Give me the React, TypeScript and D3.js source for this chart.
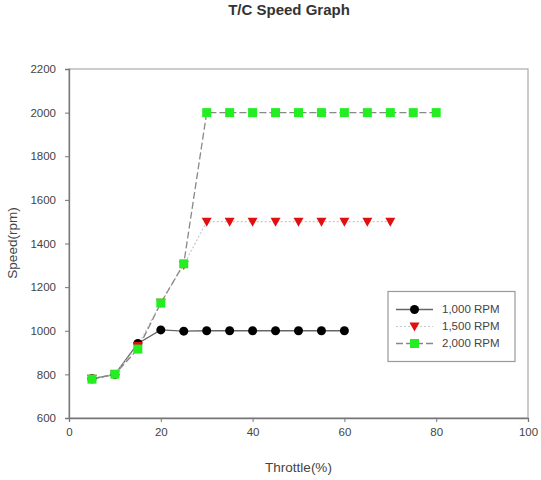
import React, { useEffect, useRef } from 'react';
import * as d3 from 'd3';

const throttle = [5, 10, 15, 20, 25, 30, 35, 40, 45, 50, 55, 60, 65, 70, 75, 80];
const rpm1000 = [780, 800, 942, 1004, 998, 1000, 1000, 1000, 1000, 1000, 1000, 1000];
const rpm1500 = [780, 800, 930, 1128, 1302, 1500, 1500, 1500, 1500, 1500, 1500, 1500, 1500, 1500];
const rpm2000 = [778, 801, 916, 1127, 1307, 2000, 2000, 2000, 2000, 2000, 2000, 2000, 2000, 2000, 2000, 2000];
const seriesNames = ['1,000 RPM', '1,500 RPM', '2,000 RPM'];
const xTicks = [0, 20, 40, 60, 80, 100];
const yTicks = [600, 800, 1000, 1200, 1400, 1600, 1800, 2000, 2200];

export default function App() {
  const svgRef = useRef<SVGSVGElement>(null);

  useEffect(() => {
    if (!svgRef.current) return;
    drawChart();
  }, []);

  const drawChart = () => {
    const svg = d3.select(svgRef.current);
    svg.selectAll('*').remove();

    const margin = { top: 69, right: 13, bottom: 62, left: 69 };
    const width = 541 - margin.left - margin.right;
    const height = 480 - margin.top - margin.bottom;
    const font = 'Arial, "Liberation Sans", sans-serif';

    const g = svg
      .append('g')
      .attr('transform', `translate(${margin.left},${margin.top})`);

    // Scales
    const x = d3.scaleLinear().domain([0, 100]).range([0, width]);
    const y = d3.scaleLinear().domain([600, 2200]).range([height, 0]);

    // Frame
    g.append('rect')
      .attr('width', width)
      .attr('height', height)
      .attr('fill', 'none')
      .attr('stroke', '#aaa')
      .attr('stroke-width', 1.2);

    // Axes
    const xAxis = g
      .append('g')
      .attr('transform', `translate(0,${height})`)
      .call(d3.axisBottom(x).tickValues(xTicks).tickSize(4).tickPadding(6));
    const yAxis = g
      .append('g')
      .call(d3.axisLeft(y).tickValues(yTicks).tickSize(4).tickPadding(9).tickFormat(d3.format('d')));

    [xAxis, yAxis].forEach((ax) => {
      ax.select('.domain').attr('stroke', '#777').attr('stroke-width', 1.3);
      ax.selectAll('.tick line').attr('stroke', '#777');
      ax.selectAll('text')
        .style('font-family', font)
        .style('font-size', '11.5px')
        .style('fill', '#444');
    });

    const series = [
      { name: seriesNames[0], values: rpm1000, stroke: '#666', dash: null, width: 1.3, marker: 'circle', color: '#000' },
      { name: seriesNames[1], values: rpm1500, stroke: '#c8c8c8', dash: '2,2', width: 1.2, marker: 'triangle', color: '#e01010' },
      { name: seriesNames[2], values: rpm2000, stroke: '#888', dash: '7,3', width: 1.3, marker: 'square', color: '#22ee22' },
    ];

    const line = d3
      .line<number>()
      .x((_, i) => x(throttle[i]))
      .y((d) => y(d));

    const drawMarker = (sel: any, type: string, color: string, cx: number, cy: number) => {
      if (type === 'circle') {
        sel.append('circle').attr('cx', cx).attr('cy', cy).attr('r', 4.5).attr('fill', color);
      } else if (type === 'triangle') {
        sel.append('path')
          .attr('d', `M${cx - 5},${cy - 4}L${cx + 5},${cy - 4}L${cx},${cy + 5}Z`)
          .attr('fill', color);
      } else {
        sel.append('rect')
          .attr('x', cx - 4.5)
          .attr('y', cy - 4.5)
          .attr('width', 9)
          .attr('height', 9)
          .attr('fill', color);
      }
    };

    series.forEach((s) => {
      g.append('path')
        .datum(s.values)
        .attr('fill', 'none')
        .attr('stroke', s.stroke)
        .attr('stroke-width', s.width)
        .attr('stroke-dasharray', s.dash)
        .attr('d', line);
    });

    series.forEach((s) => {
      const mg = g.append('g');
      s.values.forEach((v, i) => drawMarker(mg, s.marker, s.color, x(throttle[i]), y(v)));
    });

    // Legend
    const legend = g.append('g').attr('transform', `translate(${x(69.5)},${y(1180)})`);
    legend.append('rect')
      .attr('width', 127)
      .attr('height', 70)
      .attr('fill', '#fff')
      .attr('stroke', '#999')
      .attr('stroke-width', 1.2);
    series.forEach((s, i) => {
      const ly = 18 + i * 17;
      legend.append('line')
        .attr('x1', 8)
        .attr('x2', 45)
        .attr('y1', ly)
        .attr('y2', ly)
        .attr('stroke', s.stroke)
        .attr('stroke-width', s.width)
        .attr('stroke-dasharray', s.dash);
      drawMarker(legend, s.marker, s.color, 26.5, ly);
      legend.append('text')
        .attr('x', 54)
        .attr('y', ly + 4)
        .style('font-family', font)
        .style('font-size', '11.5px')
        .style('fill', '#444')
        .text(s.name);
    });

    // Title and axis labels
    svg.append('text')
      .attr('text-anchor', 'middle')
      .attr('x', 289)
      .attr('y', 15)
      .style('font-family', font)
      .style('font-size', '15px')
      .style('font-weight', 'bold')
      .style('fill', '#333')
      .text('T/C Speed Graph');

    svg.append('text')
      .attr('text-anchor', 'middle')
      .attr('x', margin.left + width / 2)
      .attr('y', 472)
      .style('font-family', font)
      .style('font-size', '13.5px')
      .style('fill', '#444')
      .text('Throttle(%)');

    svg.append('text')
      .attr('text-anchor', 'middle')
      .attr('transform', 'rotate(-90)')
      .attr('x', -243)
      .attr('y', 17)
      .style('font-family', font)
      .style('font-size', '13.5px')
      .style('fill', '#444')
      .text('Speed(rpm)');
  };

  return (
    <svg
      ref={svgRef}
      width={541}
      height={480}
      style={{ position: 'absolute', left: 0, top: 0, background: '#fff' }}
    ></svg>
  );
}
